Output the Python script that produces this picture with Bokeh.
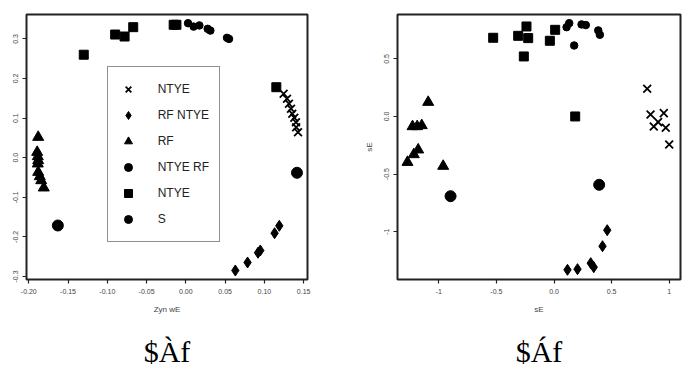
from bokeh.plotting import figure
from bokeh.layouts import row
from bokeh.models import FixedTicker, Legend, LegendItem, Title
from bokeh.embed import file_html
from bokeh.resources import INLINE

# ---------------- data ----------------
series_names = ["NTYE", "RF NTYE", "RF", "NTYE RF", "NTYE", "S"]
panel_titles = ["$Àf", "$Áf"]

# left panel
left_xticks = [-0.20, -0.15, -0.10, -0.05, 0.00, 0.05, 0.10, 0.15]
left_xtick_labels = ["-0.20", "-0.15", "-0.10", "-0.05", "0.00", "0.05", "0.10", "0.15"]
left_yticks = [-0.3, -0.2, -0.1, 0.0, 0.1, 0.2, 0.3]
left_ytick_labels = ["-0.3", "-0.2", "-0.1", "0.0", "0.1", "0.2", "0.3"]
left_xlabel = "Zyn wE"

L_cross_x = [0.1245, 0.1288, 0.1313, 0.1339, 0.1355, 0.1381, 0.1402, 0.1405, 0.1428]
L_cross_y = [0.1613, 0.1487, 0.1360, 0.1234, 0.1108, 0.1007, 0.0896, 0.0770, 0.0644]
L_diam_x = [0.063, 0.0786, 0.0919, 0.0948, 0.113, 0.119]
L_diam_y = [-0.2848, -0.2646, -0.240, -0.2343, -0.1907, -0.172]
L_tri_x = [-0.188, -0.1893, -0.1885, -0.188, -0.1885, -0.188, -0.186, -0.1842, -0.1809]
L_tri_y = [0.0518, 0.0139, 0.003, -0.007, -0.0154, -0.0366, -0.0475, -0.0576, -0.076]
L_bigc_x = [-0.163, 0.1415]
L_bigc_y = [-0.1712, -0.0381]
L_sq_x = [-0.130, -0.090, -0.078, -0.067, -0.0155, -0.012, 0.1152]
L_sq_y = [0.260, 0.311, 0.306, 0.3296, 0.3356, 0.3356, 0.178]
L_dot_x = [0.0028, 0.0099, 0.0172, 0.0278, 0.0312, 0.0524, 0.055]
L_dot_y = [0.3397, 0.331, 0.334, 0.3254, 0.321, 0.3027, 0.300]

# right panel
right_xticks = [-1.0, -0.5, 0.0, 0.5, 1.0]
right_xtick_labels = ["-1", "-0.5", "0.0", "0.5", "1"]
right_yticks = [-1.0, -0.5, 0.0, 0.5]
right_ytick_labels = ["-1", "-0.5", "0.0", "0.5"]
right_xlabel = "sE"
right_ylabel = "sE"

R_cross_x = [0.809, 0.838, 0.953, 0.866, 0.970, 1.000, 0.904]
R_cross_y = [0.240, 0.017, 0.029, -0.087, -0.098, -0.243, -0.049]
R_diam_x = [0.117, 0.204, 0.319, 0.345, 0.421, 0.462]
R_diam_y = [-1.331, -1.325, -1.273, -1.308, -1.126, -0.987]
R_tri_x = [-1.092, -1.228, -1.188, -1.148, -1.179, -1.217, -1.272, -0.962]
R_tri_y = [0.124, -0.087, -0.087, -0.078, -0.289, -0.330, -0.397, -0.431]
R_bigc_x = [-0.898, 0.392]
R_bigc_y = [-0.692, -0.593]
R_sq_x = [-0.528, -0.311, -0.239, -0.224, -0.262, -0.036, 0.010, 0.184]
R_sq_y = [0.683, 0.700, 0.781, 0.680, 0.521, 0.657, 0.752, 0.000]
R_dot_x = [0.109, 0.132, 0.239, 0.276, 0.384, 0.398, 0.175]
R_dot_y = [0.775, 0.810, 0.799, 0.793, 0.747, 0.709, 0.616]

TICK_FONT = "Liberation Sans"


def style_axes(p):
    p.xgrid.visible = False
    p.ygrid.visible = False
    p.outline_line_color = "#222222"
    p.outline_line_width = 2
    for ax in (p.xaxis[0], p.yaxis[0]):
        ax.axis_line_color = None
        ax.major_tick_line_color = "#222222"
        ax.major_tick_line_width = 1.2
        ax.major_tick_out = 4
        ax.major_tick_in = 0
        ax.minor_tick_line_color = None
        ax.major_label_text_font = TICK_FONT
        ax.major_label_text_font_size = "7px"
        ax.major_label_text_color = "#444444"
        ax.axis_label_text_font = TICK_FONT
        ax.axis_label_text_font_size = "8px"
        ax.axis_label_text_color = "#444444"
        ax.axis_label_text_font_style = "normal"
    p.xaxis[0].major_label_standoff = 5
    p.xaxis[0].axis_label_standoff = 8
    p.yaxis[0].major_label_orientation = "parallel"
    p.yaxis[0].major_label_standoff = 4
    p.yaxis[0].axis_label_standoff = 8


def add_points(p, cx, cy, dx, dy, tx, ty, bx, by, sx, sy, ox, oy):
    r1 = p.scatter(cx, cy, marker="x", size=11, line_color="black", line_width=1.8)
    r2 = p.scatter(dx, dy, marker="diamond", size=11, color="black")
    r3 = p.scatter(tx, ty, marker="triangle", size=11, color="black")
    r4 = p.scatter(bx, by, marker="circle", size=11, color="black")
    r5 = p.scatter(sx, sy, marker="square", size=9, color="black")
    r6 = p.scatter(ox, oy, marker="circle", size=7.5, color="black")
    return [r1, r2, r3, r4, r5, r6]


def add_title(p, text):
    p.add_layout(Title(text=text, align="center", text_font="Liberation Serif",
                       text_font_size="30px", text_font_style="normal",
                       text_color="black", standoff=32), "below")


# ---------------- left panel ----------------
p1 = figure(frame_width=281, frame_height=265,
            min_border_left=26, min_border_right=39, min_border_top=14, min_border_bottom=99,
            x_range=(-0.2029, 0.1549), y_range=(-0.3076, 0.3616),
            output_backend="svg", toolbar_location=None)
style_axes(p1)
p1.xaxis[0].ticker = FixedTicker(ticks=left_xticks)
p1.xaxis[0].major_label_overrides = {t: l for t, l in zip(left_xticks, left_xtick_labels)}
p1.yaxis[0].ticker = FixedTicker(ticks=left_yticks)
p1.yaxis[0].major_label_overrides = {t: l for t, l in zip(left_yticks, left_ytick_labels)}
p1.xaxis[0].axis_label = left_xlabel

rs = add_points(p1, L_cross_x, L_cross_y, L_diam_x, L_diam_y, L_tri_x, L_tri_y,
                L_bigc_x, L_bigc_y, L_sq_x, L_sq_y, L_dot_x, L_dot_y)
legend = Legend(items=[LegendItem(label=n, renderers=[r]) for n, r in zip(series_names, rs)],
                location=(80.7, 37.0), padding=10, spacing=2,
                glyph_width=20, glyph_height=24, label_height=24, label_standoff=20,
                border_line_color="#222222", border_line_width=1.5,
                background_fill_color="white", background_fill_alpha=1.0,
                label_text_font="Liberation Sans", label_text_font_size="12px",
                label_text_color="#222222")
p1.add_layout(legend)
add_title(p1, panel_titles[0])

# ---------------- right panel ----------------
p2 = figure(frame_width=283, frame_height=265,
            min_border_left=51, min_border_right=12, min_border_top=14, min_border_bottom=99,
            x_range=(-1.3585, 1.098), y_range=(-1.415, 0.885),
            output_backend="svg", toolbar_location=None)
style_axes(p2)
p2.xaxis[0].ticker = FixedTicker(ticks=right_xticks)
p2.xaxis[0].major_label_overrides = {t: l for t, l in zip(right_xticks, right_xtick_labels)}
p2.yaxis[0].ticker = FixedTicker(ticks=right_yticks)
p2.yaxis[0].major_label_overrides = {t: l for t, l in zip(right_yticks, right_ytick_labels)}
p2.xaxis[0].axis_label = right_xlabel
p2.yaxis[0].axis_label = right_ylabel

add_points(p2, R_cross_x, R_cross_y, R_diam_x, R_diam_y, R_tri_x, R_tri_y,
           R_bigc_x, R_bigc_y, R_sq_x, R_sq_y, R_dot_x, R_dot_y)
add_title(p2, panel_titles[1])

layout = row(p1, p2, spacing=0)
open("out.html", "w").write(file_html(layout, INLINE))
